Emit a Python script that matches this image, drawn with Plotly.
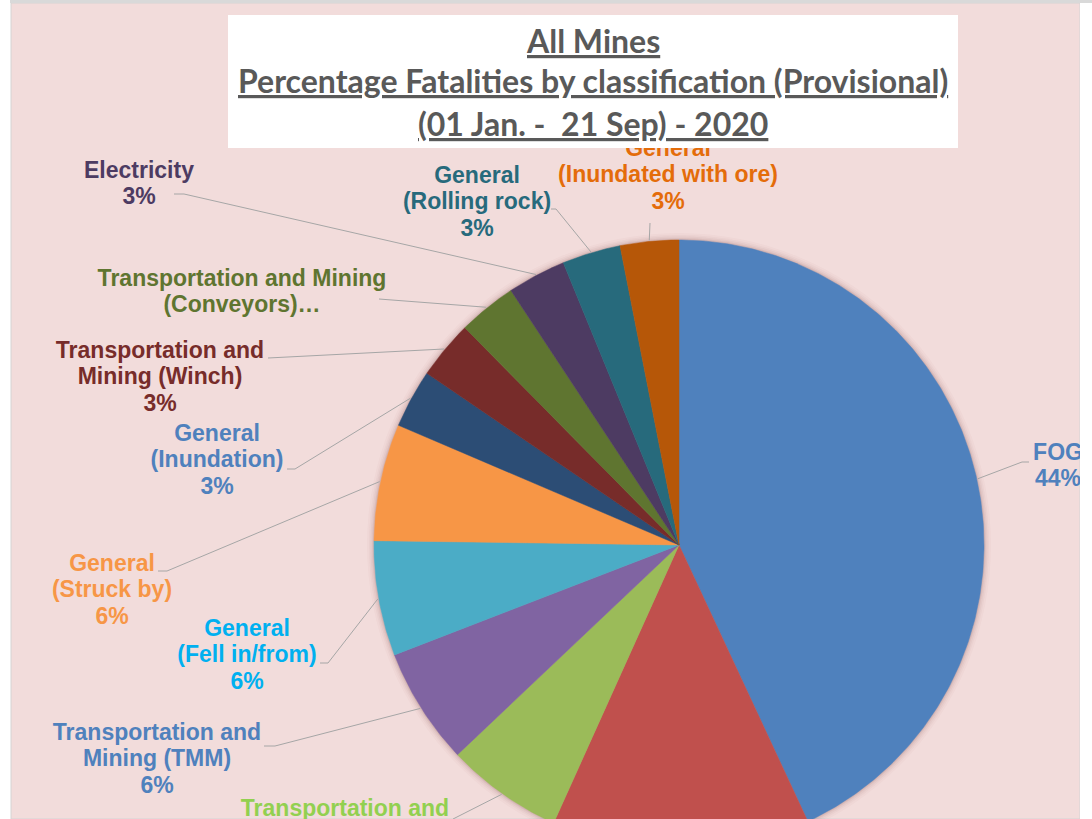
import numpy as np
import plotly.graph_objects as go

# ---------------- data ----------------
categories = [
    "FOG",
    "Machinery",
    "Transportation and<br>Mining (Rail)",
    "Transportation and<br>Mining (TMM)",
    "General<br>(Fell in/from)",
    "General<br>(Struck by)",
    "General<br>(Inundation)",
    "Transportation and<br>Mining (Winch)",
    "Transportation and Mining<br>(Conveyors)…",
    "Electricity",
    "General<br>(Rolling rock)",
    "General<br>(Inundated with ore)",
]
values = [43.1, 13.7, 6.2, 6.2, 6.1, 6.2, 3.1, 3.1, 3.1, 3.1, 3.1, 3.1]
pct_labels = ["44%", "14%", "6%", "6%", "6%", "6%", "3%", "3%", "3%", "3%", "3%", "3%"]
show_pct = [True, True, True, True, True, True, True, True, False, True, True, True]

slice_colors = ["#4f81bd", "#c0504d", "#9bbb59", "#8064a2", "#4bacc6", "#f79646",
                "#2c4d75", "#772c2a", "#5f7530", "#4d3b62", "#276a7c", "#b65708"]
label_colors = ["#4f81bd", "#c0504d", "#92d050", "#4f81bd", "#00b0f0", "#f79646",
                "#4f81bd", "#772c2a", "#5f7530", "#4d3b62", "#276a7c", "#e46c0a"]

title_lines = ["All Mines",
               "Percentage Fatalities by classification (Provisional)",
               "(01 Jan. -\u00a0 21 Sep) - 2020"]

# ---------------- layout (pixel-like coordinates) ----------------
W, H = 1092, 819
CX, CY, R = 679, 545, 305
LINE_H = 26.5

# label block positions (None = label lies outside the visible chart area)
label_x = [1058, None, 345, 157, 247, 112, 217, 160, 242, 139, 477, 668]
label_y = [454, None, 810, 734, 630, 565, 435, 352, 280, 172, 177, 150]
leader_anchor = [(1029, 462), None, (453, 819), (264, 746), (320, 663), (158, 571),
                 (287, 469), (268, 358), (379, 299), (174, 194), (551, 209), (650, 223)]
leader_elbow = [(1022, 462), None, (453, 819), (275, 746), (328, 663), (167, 571),
                (295, 469), (268, 358), (379, 299), (184, 194), (556, 209), (650, 223)]

fig = go.Figure()

vals = np.array(values, dtype=float)
frac = vals / vals.sum()
ends = np.cumsum(frac) * 360.0
starts = ends - frac * 360.0
mids = (starts + ends) / 2.0

# slices
for i, cat in enumerate(categories):
    n = max(4, int((ends[i] - starts[i]) * 2))
    th = np.radians(np.linspace(starts[i], ends[i], n))
    xs = np.concatenate([[CX], CX + R * np.sin(th), [CX]])
    ys = np.concatenate([[CY], CY - R * np.cos(th), [CY]])
    fig.add_trace(go.Scatter(
        x=xs, y=ys, mode="lines", fill="toself",
        fillcolor=slice_colors[i], line=dict(color=slice_colors[i], width=0.5),
        hoverinfo="text", hovertext=cat.replace("<br>", " ") + " " + pct_labels[i],
        showlegend=False))

# leader lines
for i in range(len(categories)):
    if leader_anchor[i] is None:
        continue
    t = np.radians(mids[i])
    px, py = CX + (R + 1) * np.sin(t), CY - (R + 1) * np.cos(t)
    ax, ay = leader_anchor[i]
    ex, ey = leader_elbow[i]
    fig.add_trace(go.Scatter(
        x=[ax, ex, px], y=[ay, ey, py], mode="lines",
        line=dict(color="#a6a6a6", width=1), hoverinfo="skip", showlegend=False))

# data labels
for i, cat in enumerate(categories):
    if label_x[i] is None:
        continue
    lines = cat.split("<br>") + ([pct_labels[i]] if show_pct[i] else [])
    fig.add_trace(go.Scatter(
        x=[label_x[i]] * len(lines),
        y=[label_y[i] + k * LINE_H for k in range(len(lines))],
        mode="text", text=lines, textposition="middle center",
        textfont=dict(family="Liberation Sans, Arial, sans-serif", size=23,
                      color=label_colors[i], weight="bold"),
        hoverinfo="skip", showlegend=False, cliponaxis=True))

shapes = [
    # chart area background
    dict(type="rect", xref="x", yref="y", x0=11, x1=1080, y0=3, y1=H,
         fillcolor="#f2dcdb", line=dict(color="#d4d4d4", width=1), layer="below"),
]
# soft shadow around the pie
for k, a in [(7, 0.025), (5, 0.035), (3.5, 0.05), (2, 0.07), (1, 0.08)]:
    shapes.append(dict(type="circle", xref="x", yref="y",
                       x0=CX - R - k, x1=CX + R + k, y0=CY - R - k, y1=CY + R + k,
                       fillcolor=f"rgba(110,55,55,{a})", line=dict(width=0), layer="below"))
# title box, frame strips
shapes += [
    dict(type="rect", xref="x", yref="y", x0=228, x1=958, y0=15, y1=148,
         fillcolor="white", line=dict(width=0), layer="above"),
    dict(type="rect", xref="x", yref="y", x0=1080, x1=W, y0=0, y1=H,
         fillcolor="white", line=dict(width=0), layer="above"),
    dict(type="rect", xref="x", yref="y", x0=10, x1=W, y0=0, y1=3,
         fillcolor="#d9d9d9", line=dict(width=0), layer="above"),
]

annotations = []
for txt, y in zip(title_lines, [40, 80, 123]):
    annotations.append(dict(
        x=593, y=y, xref="x", yref="y", text="<u>" + txt + "</u>", showarrow=False,
        xanchor="center", yanchor="middle",
        font=dict(family="Lato, Carlito, sans-serif", size=32, color="#595959", weight="bold")))

fig.update_layout(
    width=W, height=H, autosize=False,
    margin=dict(l=0, r=0, t=0, b=0, pad=0),
    paper_bgcolor="white", plot_bgcolor="white",
    xaxis=dict(range=[0, W], visible=False, showgrid=False, zeroline=False, fixedrange=True),
    yaxis=dict(range=[H, 0], visible=False, showgrid=False, zeroline=False, fixedrange=True),
    shapes=shapes, annotations=annotations, showlegend=False,
)

fig.write_html("out.html", include_plotlyjs=True, full_html=True,
               config={"displayModeBar": False},
               post_script="document.body.style.margin='0';document.body.style.overflow='hidden';")
